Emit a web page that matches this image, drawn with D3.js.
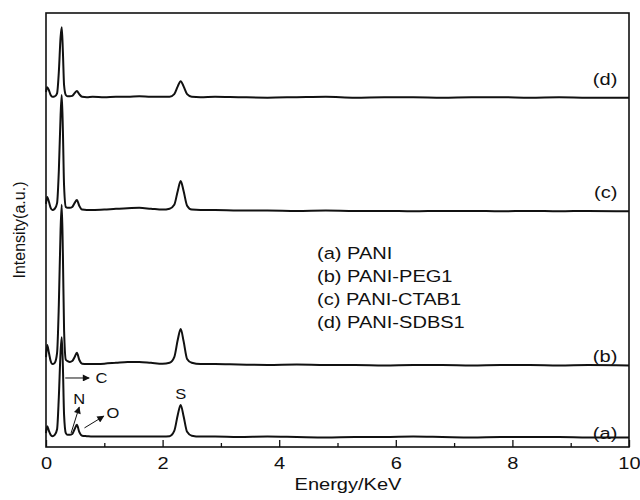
<!DOCTYPE html>
<html>
<head>
<meta charset="utf-8">
<script src="https://cdn.jsdelivr.net/npm/d3@7"></script>
<style>
  body { margin:0; background:#fff; }
  text { font-family: Arial, "Liberation Sans", sans-serif; fill:#111; }
</style>
</head>
<body>
<div class="canvas"></div>
<script>
// energy points (keV), shared by all four spectra
const energy = [0, 0.02, 0.05, 0.08, 0.11, 0.15, 0.19, 0.22, 0.25, 0.27, 0.29, 0.31, 0.34, 0.37, 0.41, 0.45, 0.49, 0.53, 0.57, 0.62,
  0.7, 0.8, 1.0, 1.2, 1.4, 1.6, 1.8, 2.0, 2.12, 2.2, 2.26, 2.31, 2.36, 2.42, 2.5, 2.65, 2.9, 3.3, 3.8, 4.3,
  4.8, 5.3, 5.8, 6.3, 6.8, 7.3, 7.8, 8.3, 8.8, 9.3, 10];

// intensities (a.u.), relative to each trace's baseline
const pani = [0.9, 2.5, 1.4, 0.5, 0.2, 0.5, 1.8, 9.2, 19.6, 23.0, 16.1, 5.1, 0.9, 0.5, 0.5, 0.7, 1.8, 2.8, 1.2, 0.3,
  0.2, 0.1, 0.1, 0.1, 0.1, 0.1, 0.1, 0.1, 0.2, 1.4, 5.1, 7.4, 4.8, 1.2, 0.3, 0.1, 0.1, 0.0, 0.1, 0.0,
  -0.1, 0.0, 0.0, 0.1, 0.0, -0.1, 0.0, 0.0, 0.0, -0.1, -0.1];
const paniPeg = [1.8, 4.6, 2.8, 0.9, 0.2, 0.5, 2.8, 13.8, 31.1, 36.9, 25.3, 8.1, 1.2, 0.9, 0.7, 0.9, 1.8, 2.8, 1.2, 0.3,
  0.2, 0.2, 0.3, 0.5, 0.7, 0.7, 0.5, 0.3, 0.5, 1.8, 5.8, 8.3, 5.5, 1.4, 0.5, 0.2, 0.2, 0.1, 0.0, 0.1,
  0.0, 0.0, -0.1, 0.0, 0.0, -0.1, 0.0, 0.0, -0.1, 0.0, -0.1];
const paniCtab = [1.6, 3.2, 2.1, 0.7, 0.2, 0.5, 1.8, 9.2, 21.9, 26.7, 18.4, 5.8, 0.9, 0.7, 0.7, 0.9, 1.8, 2.5, 1.2, 0.3,
  0.2, 0.2, 0.3, 0.5, 0.6, 0.7, 0.5, 0.3, 0.5, 1.4, 4.6, 6.9, 4.6, 1.2, 0.3, 0.2, 0.2, 0.1, 0.1, 0.0,
  0.1, 0.0, 0.0, -0.1, 0.0, 0.0, -0.1, 0.0, -0.1, 0.0, -0.1];
const paniSdbs = [1.2, 2.3, 1.6, 0.5, 0.1, 0.2, 0.9, 5.8, 13.8, 16.1, 10.4, 2.8, 0.5, 0.2, 0.2, 0.3, 0.9, 1.4, 0.7, 0.1,
  0.0, 0.1, 0.0, 0.1, 0.1, 0.2, 0.1, 0.1, 0.1, 0.7, 2.5, 3.7, 2.5, 0.7, 0.1, 0.0, 0.1, 0.0, -0.1, 0.0,
  0.1, -0.1, 0.0, 0.0, -0.1, 0.0, 0.0, -0.1, 0.0, -0.1, -0.1];

// vertical stacking offsets (a.u.)
const offsets = [2.3, 18.9, 54.4, 80.6];
const traceLabels = ['(a)', '(b)', '(c)', '(d)'];
const legendNames = ['(a) PANI', '(b) PANI-PEG1', '(c) PANI-CTAB1', '(d) PANI-SDBS1'];
const majorTicks = [0, 2, 4, 6, 8, 10];
const minorTicks = [1, 3, 5, 7, 9];

const series = [pani, paniPeg, paniCtab, paniSdbs];

//------------------------dimensions
const W = 640, H = 500;
const m = { left:46, right:11, top:13, bottom:53 };
const stretch = 1.18; // the original lettering is a bit wide

const svg = d3.select('.canvas')
  .append('svg')
  .attr('width', W)
  .attr('height', H);

const x = d3.scaleLinear().domain([0, 10]).range([m.left, W - m.right]);
const y = d3.scaleLinear().domain([0, 100]).range([H - m.bottom, m.top]);

// horizontal text helper
const addText = (px, py, str, size, anchor) => svg.append('text')
  .attr('transform', `translate(${px}, ${py}) scale(${stretch}, 1)`)
  .attr('text-anchor', anchor || 'start')
  .attr('font-size', size)
  .text(str);

//------------------------spectra
const line = d3.line()
  .x(d => x(d[0]))
  .y(d => y(d[1]))
  .curve(d3.curveMonotoneX);

series.forEach((s, k) => {
  const pts = energy.map((e, i) => [e, s[i] + offsets[k]]);
  svg.append('path')
    .datum(pts)
    .attr('d', line)
    .attr('fill', 'none')
    .attr('stroke', '#111')
    .attr('stroke-width', 2)
    .attr('stroke-linejoin', 'round');
});

//------------------------axis (ticks point inward)
const xAxis = svg.append('g')
  .attr('transform', `translate(0, ${y(0)})`)
  .call(d3.axisBottom(x).tickValues(majorTicks).tickSize(-7).tickPadding(10).tickFormat(d3.format('d')));
xAxis.select('.domain').remove();
xAxis.selectAll('line').attr('stroke', '#111').attr('stroke-width', 1.3);
xAxis.selectAll('text')
  .attr('font-size', 17)
  .attr('font-family', 'Arial, "Liberation Sans", sans-serif')
  .attr('fill', '#111')
  .attr('transform', `scale(${stretch}, 1)`);

const xMinor = svg.append('g')
  .attr('transform', `translate(0, ${y(0)})`)
  .call(d3.axisBottom(x).tickValues(minorTicks).tickSize(-4).tickFormat(''));
xMinor.select('.domain').remove();
xMinor.selectAll('line').attr('stroke', '#111').attr('stroke-width', 1.3);

// frame
svg.append('rect')
  .attr('x', x(0)).attr('y', y(100))
  .attr('width', x(10) - x(0)).attr('height', y(0) - y(100))
  .attr('fill', 'none').attr('stroke', '#111').attr('stroke-width', 1.6);

//------------------------axis titles
addText(348, 490, 'Energy/KeV', 17, 'middle');

svg.append('text')
  .attr('transform', `translate(25, ${(y(0) + y(100)) / 2}) rotate(-90)`)
  .attr('text-anchor', 'middle')
  .attr('font-size', 16)
  .text('Intensity(a.u.)');

//------------------------trace labels on the right
const labelY = [1.8, 19.7, 57.4, 83.5];
traceLabels.forEach((t, k) => addText(x(9.8), y(labelY[k]), t, 17, 'end'));

//------------------------legend text
legendNames.forEach((t, k) => addText(317, 259 + k * 23, t, 17));

//------------------------element annotations
const defs = svg.append('defs');
defs.append('marker')
  .attr('id', 'arr')
  .attr('viewBox', '0 0 10 10')
  .attr('refX', 9).attr('refY', 5)
  .attr('markerWidth', 8).attr('markerHeight', 7)
  .attr('markerUnits', 'userSpaceOnUse')
  .attr('orient', 'auto')
  .append('path').attr('d', 'M0,0 L10,5 L0,10 Z').attr('fill', '#111');

const arrows = [
  { x1:0.33, y1:15.9, x2:0.74, y2:15.9 },  // C
  { x1:0.43, y1:3.2,  x2:0.57, y2:9.2 },   // N
  { x1:0.66, y1:4.4,  x2:0.99, y2:7.1 }    // O
];
arrows.forEach(a => {
  svg.append('line')
    .attr('x1', x(a.x1)).attr('y1', y(a.y1))
    .attr('x2', x(a.x2)).attr('y2', y(a.y2))
    .attr('stroke', '#111').attr('stroke-width', 1)
    .attr('marker-end', 'url(#arr)');
});

const notes = [
  { t:'C', x:0.95, y:14.7 },
  { t:'N', x:0.57, y:10.0 },
  { t:'O', x:1.15, y:6.6 },
  { t:'S', x:2.31, y:11.1 }
];
notes.forEach(n => addText(x(n.x), y(n.y), n.t, 14, 'middle'));
</script>
</body>
</html>
